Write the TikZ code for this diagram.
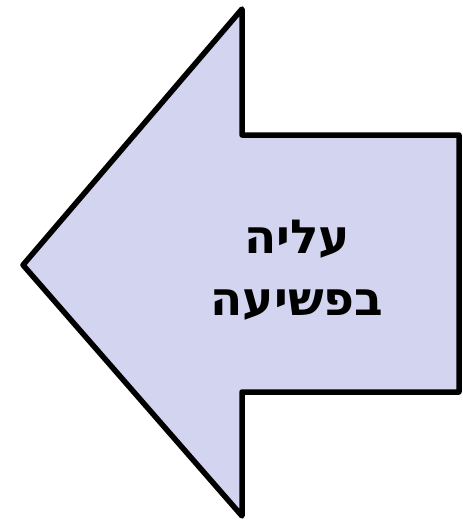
\documentclass[tikz,border=0pt]{standalone}
\usepackage{fontspec}
\newfontfamily\hebfont[Script=Hebrew]{DejaVu Sans}
\TeXXeTstate=1
\definecolor{arrowfill}{RGB}{210,212,240}
\begin{document}
\begin{tikzpicture}[x=1pt, y=-1pt,
    bigarrow/.style={draw=black, line width=5.5pt, line join=round, fill=arrowfill},
    label/.style={font=\hebfont\bfseries\fontsize{47}{62}\selectfont, align=center}
]
\useasboundingbox (0,0) rectangle (463,522);
% arrow shape
\draw[bigarrow] (23,265) -- (242,9) -- (242,135) -- (459,135) -- (459,392) -- (242,392) -- (242,516) -- cycle;
% label
\node[label] (txt) at (297,270) {\beginR עליה\endR\\\beginR בפשיעה\endR};
\end{tikzpicture}
\end{document}
